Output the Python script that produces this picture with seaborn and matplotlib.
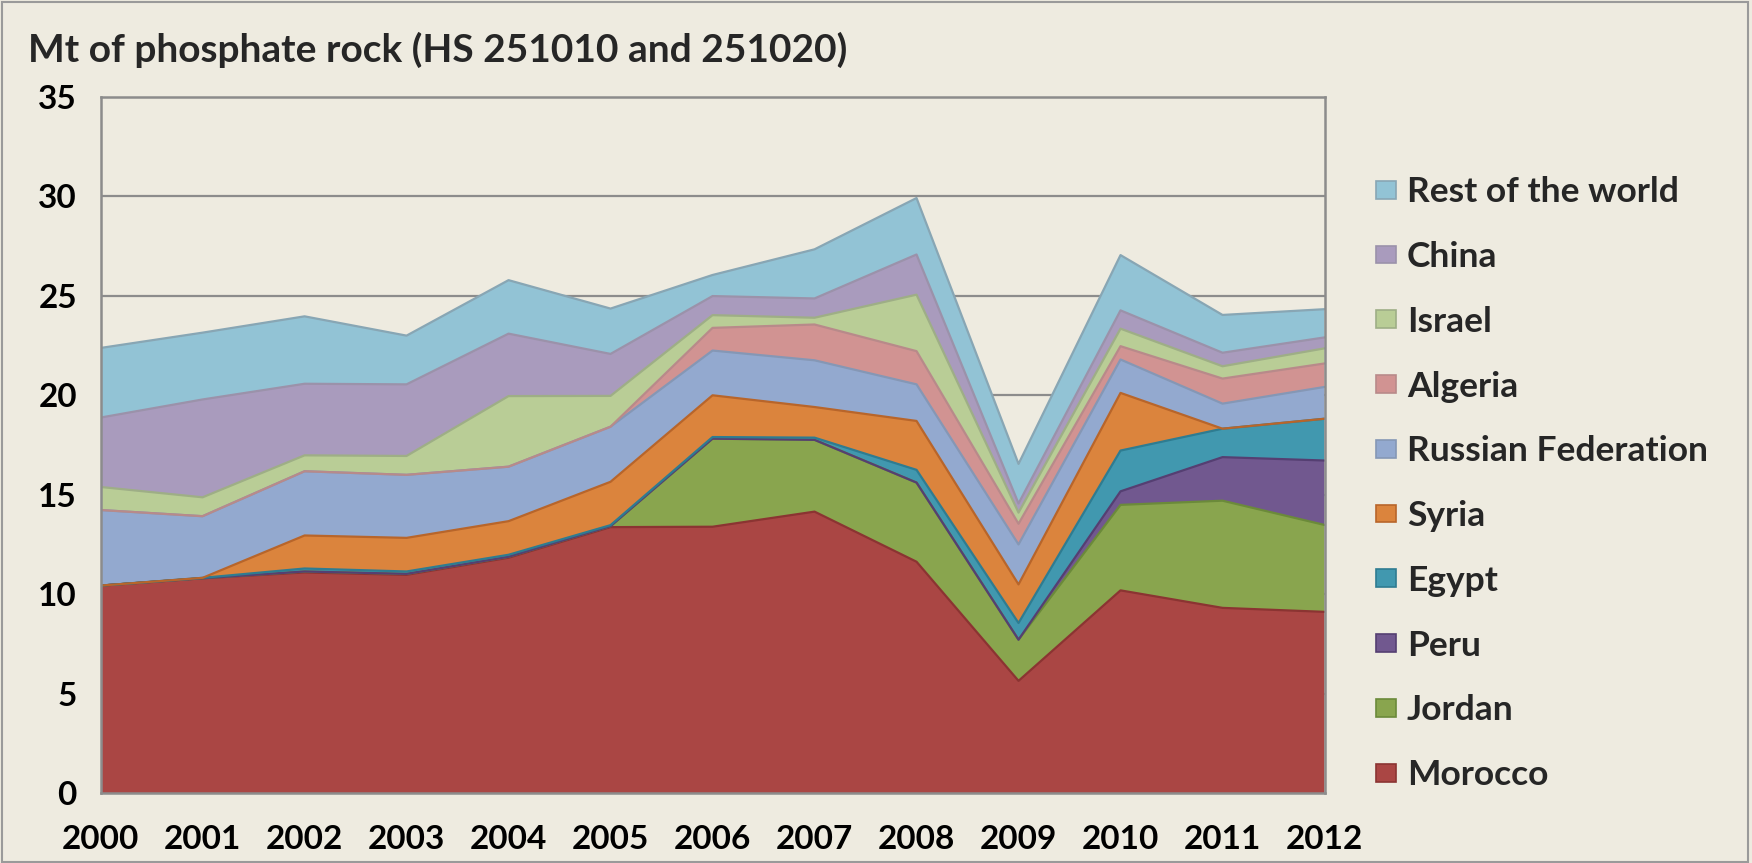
import numpy as np
import pandas as pd
import seaborn as sns
import matplotlib.pyplot as plt
from matplotlib.patches import Patch, Rectangle

years = [2000, 2001, 2002, 2003, 2004, 2005, 2006, 2007, 2008, 2009, 2010, 2011, 2012]

morocco = [10.43, 10.80, 11.09, 10.97, 11.83, 13.37, 13.39, 14.15, 11.63, 5.64, 10.19, 9.31, 9.11]
jordan = [0.0, 0.0, 0.05, 0.05, 0.05, 0.05, 4.43, 3.61, 3.98, 2.07, 4.30, 5.39, 4.37]
peru = [0.0, 0.0, 0.0, 0.0, 0.0, 0.0, 0.0, 0.0, 0.0, 0.0, 0.68, 2.19, 3.24]
egypt = [0.0, 0.02, 0.15, 0.12, 0.10, 0.05, 0.08, 0.11, 0.64, 0.84, 2.05, 1.43, 2.10]
syria = [0.0, 0.0, 1.66, 1.69, 1.69, 2.18, 2.10, 1.54, 2.46, 1.94, 2.90, 0.0, 0.0]
russia = [3.80, 3.10, 3.23, 3.17, 2.74, 2.77, 2.25, 2.35, 1.84, 2.01, 1.68, 1.26, 1.60]
algeria = [0.0, 0.0, 0.0, 0.0, 0.0, 0.0, 1.14, 1.80, 1.67, 1.04, 0.67, 1.26, 1.18]
israel = [1.16, 0.95, 0.80, 0.95, 3.55, 1.55, 0.64, 0.34, 2.84, 0.56, 0.88, 0.62, 0.76]
china = [3.49, 4.92, 3.60, 3.60, 3.14, 2.11, 0.96, 0.97, 2.02, 0.46, 0.92, 0.68, 0.55]
rest_of_world = [3.50, 3.36, 3.39, 2.45, 2.69, 2.28, 1.06, 2.47, 2.84, 1.99, 2.78, 1.90, 1.42]

series_names = ["Morocco", "Jordan", "Peru", "Egypt", "Syria", "Russian Federation",
                "Algeria", "Israel", "China", "Rest of the world"]
series_values = [morocco, jordan, peru, egypt, syria, russia, algeria, israel, china, rest_of_world]
fill_colors = ["#AA4644", "#89A54E", "#71588F", "#4198AF", "#DB843D", "#93A9CF",
               "#D19392", "#B9CD96", "#A99BBD", "#92C3D5"]
edge_colors = ["#8B3432", "#6B8A3A", "#553F72", "#2E7C91", "#B8652A", "#8597B5",
               "#B88A8A", "#9EAE86", "#9B92AA", "#88A6B4"]

title = "Mt of phosphate rock (HS 251010 and 251020)"
y_ticks = [0, 5, 10, 15, 20, 25, 30, 35]

bg = "#EEEBE0"
grid_c = "#8C8C8C"

sns.set_theme(style="white")
plt.rcParams['font.family'] = ['Lato', 'DejaVu Sans']
plt.rcParams['font.weight'] = 'bold'

fig = plt.figure(figsize=(17.52, 8.63), dpi=100)
fig.patch.set_facecolor(bg)
ax = fig.add_axes([0.0574, 0.0811, 0.6986, 0.8065])
ax.set_facecolor(bg)

df = pd.DataFrame({"year": years})
for n, v in zip(series_names, series_values):
    df[n] = v
cum = df[series_names].cumsum(axis=1)

for ytk in y_ticks[1:-1]:
    ax.axhline(ytk, color=grid_c, lw=1.6, zorder=0)

prev = np.zeros(len(years))
long_rows = []
for i, n in enumerate(series_names):
    top = cum[n].values
    ax.fill_between(df["year"], prev, top, facecolor=fill_colors[i], edgecolor='none',
                    linewidth=0, zorder=1 + i * 0.01)
    prev = top
    for yv, tv in zip(years, top):
        long_rows.append({"year": yv, "top": tv, "series": n})
long_df = pd.DataFrame(long_rows)
sns.lineplot(data=long_df, x="year", y="top", hue="series", hue_order=series_names,
             palette=dict(zip(series_names, edge_colors)), linewidth=1.6,
             legend=False, ax=ax, zorder=2, estimator=None)

ax.set_xlim(2000, 2012)
ax.set_ylim(0, 35)
ax.set_xticks(years)
ax.set_xticklabels([str(y) for y in years])
ax.set_yticks(y_ticks)
ax.set_xlabel("")
ax.set_ylabel("")
for s in ax.spines.values():
    s.set_color(grid_c)
    s.set_linewidth(1.8)
    s.set_zorder(5)
ax.tick_params(axis='both', which='both', direction='out', length=11, width=1.5,
               color=grid_c, labelsize=24, labelcolor='black')
ax.tick_params(axis='x', pad=12)
ax.tick_params(axis='y', pad=6)
for lab in ax.get_xticklabels() + ax.get_yticklabels():
    lab.set_fontweight('bold')

fig.text(0.016, 0.942, title, fontsize=28, fontweight='bold', ha='left', va='center')

handles = [Patch(facecolor=fill_colors[i], edgecolor=edge_colors[i], linewidth=1.2,
                 label=series_names[i]) for i in range(len(series_names))][::-1]
leg = fig.legend(handles=handles, loc='upper left', bbox_to_anchor=(0.7775, 0.812),
                 frameon=False, fontsize=25.5, handlelength=0.56, handleheight=0.4,
                 handletextpad=0.3, labelspacing=0.925, borderaxespad=0)
for t in leg.get_texts():
    t.set_fontweight('bold')

fig.patches.append(Rectangle((0.001, 0.001), 0.997, 0.997, transform=fig.transFigure,
                             fill=False, edgecolor="#9A9A9A", linewidth=1.5))

fig.savefig("out.png", dpi=100, facecolor=bg)
